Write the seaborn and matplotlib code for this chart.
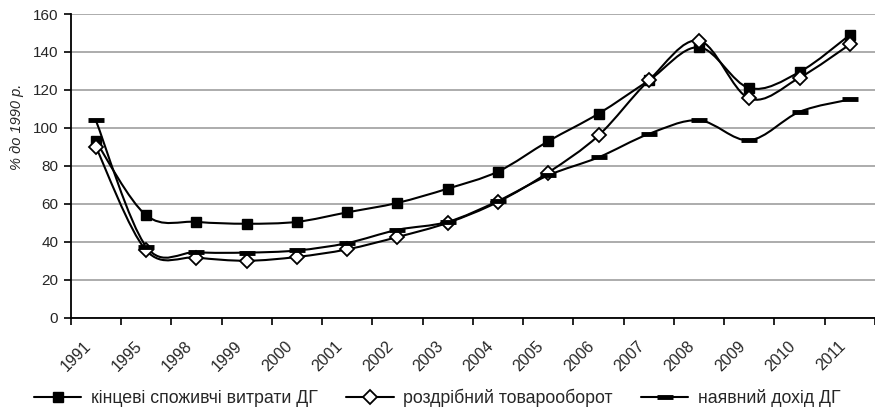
import numpy as np
import pandas as pd
import matplotlib
matplotlib.use("Agg")
import matplotlib.pyplot as plt
import matplotlib.transforms as mtransforms
import seaborn as sns
from matplotlib.path import Path
from matplotlib.patches import PathPatch
from matplotlib.lines import Line2D

categories = ['1991', '1995', '1998', '1999', '2000', '2001', '2002', '2003',
              '2004', '2005', '2006', '2007', '2008', '2009', '2010', '2011']
spending = [93, 54, 50.5, 49.5, 50.5, 55.5, 60.5, 68, 77, 93, 107.5, 125, 142.5, 121, 129.5, 149]
retail = [90, 35.5, 31.7, 30, 32, 36, 42.5, 50, 61, 76.5, 96, 125, 146, 115.5, 126.5, 144]
income = [104, 37.5, 34.5, 34.3, 35.4, 39.3, 46.3, 50.5, 61.5, 75, 84.5, 96.8, 104, 93.5, 108.5, 115]
series_names = ['кінцеві споживчі витрати ДГ', 'роздрібний товарооборот', 'наявний дохід ДГ']
ylabel = '% до 1990 р.'

sns.set_theme(style="white")
plt.rcParams['font.family'] = ['Liberation Sans', 'DejaVu Sans']

fig = plt.figure(figsize=(8.75, 4.13), dpi=100)
ax = fig.add_axes([0.0808, 0.2308, 1.0 - 0.0808, 0.966 - 0.2308])

x = np.arange(len(categories))


def smooth_path(xs, ys):
    pts = np.column_stack([xs, ys]).astype(float)
    n = len(pts)
    verts = [pts[0]]
    codes = [Path.MOVETO]
    for i in range(n - 1):
        p_prev = pts[i - 1] if i > 0 else pts[i]
        p_next2 = pts[i + 2] if i + 2 < n else pts[i + 1]
        c1 = pts[i] + (pts[i + 1] - p_prev) / 6.0
        c2 = pts[i + 1] - (p_next2 - pts[i]) / 6.0
        verts += [c1, c2, pts[i + 1]]
        codes += [Path.CURVE4] * 3
    return Path(verts, codes)


styles = [
    dict(marker='s', ms=7, mfc='black', mec='black', mew=1),
    dict(marker='D', ms=7.5, mfc='white', mec='black', mew=1.3),
    dict(marker='_', ms=11, mfc='black', mec='black', mew=3.5),
]
data = [spending, retail, income]

for vals in data:
    ax.add_patch(PathPatch(smooth_path(x, vals), fill=False, ec='black', lw=1.5, zorder=3))

for vals, st in zip(data, styles):
    df = pd.DataFrame({'x': x, 'y': vals})
    sns.lineplot(data=df, x='x', y='y', ax=ax, linestyle='none', color='black',
                 zorder=4, **st)

ax.set_xlim(-0.5, len(categories) - 0.5)
ax.set_ylim(0, 160)
ax.set_yticks(np.arange(0, 161, 20))
ax.yaxis.grid(True, color='#a6a6a6', lw=1.3)
ax.xaxis.grid(False)
ax.set_axisbelow(True)
for s in ['top', 'right']:
    ax.spines[s].set_visible(False)
for s in ['left', 'bottom']:
    ax.spines[s].set_color('black')
    ax.spines[s].set_linewidth(1.3)

ax.set_xticks(np.arange(len(categories) + 1) - 0.5)
ax.set_xticklabels([])
ax.set_xticks(x, minor=True)
ax.set_xticklabels(categories, minor=True, rotation=45, ha='right',
                   rotation_mode='anchor', fontsize=11.5)
ax.tick_params(axis='x', which='minor', length=0, pad=15)
ax.tick_params(axis='x', which='major', length=5, width=1.2, color='black', direction='out', bottom=True)
ax.tick_params(axis='y', length=5, width=1.2, color='black', direction='out', left=True,
               labelsize=11, pad=4)
offset = mtransforms.ScaledTranslation(-12 / 100, 0, fig.dpi_scale_trans)
for lab in ax.get_xticklabels(minor=True):
    lab.set_transform(lab.get_transform() + offset)
ax.set_xlabel('')
ax.set_ylabel('')
fig.text(17 / 875, 1 - 127 / 413, ylabel, rotation=90, style='italic', fontsize=10.5,
         ha='center', va='center')

handles = [Line2D([], [], color='black', lw=1.5, **st) for st in styles]
fig.legend(handles, series_names, loc='center', bbox_to_anchor=(0.5, 1 - 398 / 413),
           ncol=3, frameon=False, fontsize=12.8, handlelength=2.65, handletextpad=0.55,
           columnspacing=1.6)

fig.savefig('out.png', dpi=100)
